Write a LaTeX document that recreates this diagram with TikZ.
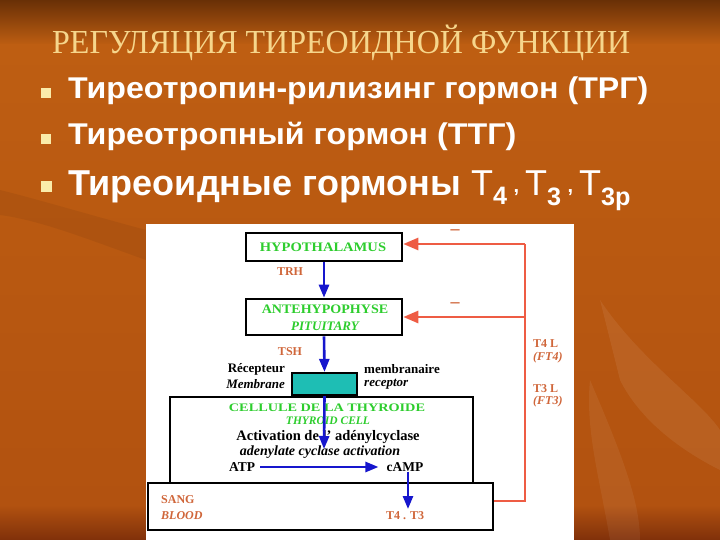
\documentclass[tikz,border=0pt]{standalone}
\usepackage{fontspec}
\usepackage{graphicx}
\setmainfont{Liberation Serif}
\newfontfamily\sansb{Liberation Sans}
\usetikzlibrary{arrows.meta}
\newcommand\fsz[1]{\fontsize{#1}{#1}\selectfont}
\definecolor{bgtop}{RGB}{105,48,6}
\definecolor{bgor}{RGB}{190,94,18}
\definecolor{bgmid}{RGB}{178,82,16}
\definecolor{bgbot}{RGB}{128,48,10}
\definecolor{titlec}{RGB}{246,214,140}
\definecolor{bulc}{RGB}{250,236,170}
\definecolor{lblc}{RGB}{208,102,58}
\definecolor{redc}{RGB}{238,92,68}
\definecolor{grnc}{RGB}{45,205,45}
\definecolor{bluec}{RGB}{22,22,205}
\definecolor{tealc}{RGB}{30,190,180}
\tikzset{
  box/.style={draw=black, line width=2.6pt, fill=white, inner sep=0pt},
  lbl/.style={text=lblc, font=\fsz{12}\bfseries, inner sep=0pt},
  grn/.style={text=grnc, font=\fsz{13}\bfseries, inner sep=0pt},
  blk/.style={text=black, font=\fsz{13.5}\bfseries, inner sep=0pt},
  bluearrow/.style={draw=bluec, line width=2.6pt, -{Triangle[length=13pt,width=10pt]}},
  redline/.style={draw=redc, line width=2.6pt},
  redarrow/.style={draw=redc, line width=2.6pt, -{Triangle[length=15pt,width=12pt]}},
  bullet/.style={fill=bulc, draw=none},
  bultext/.style={text=white, anchor=base west, inner sep=0pt},
}
\begin{document}
\begin{tikzpicture}[x=1pt,y=-1pt]
\useasboundingbox (0,0) rectangle (720,540);
% background
\shade[top color=bgtop, bottom color=bgor] (0,0) rectangle (720,45);
\shade[top color=bgor, bottom color=bgmid] (0,45) rectangle (720,505);
\shade[top color=bgmid, bottom color=bgbot] (0,505) rectangle (720,540);
% faint leaves
\fill[white, opacity=0.07] (600,300) .. controls (640,360) and (700,400) .. (720,430) -- (720,470) .. controls (680,450) and (640,420) .. (620,380) -- cycle;
\fill[white, opacity=0.06] (590,380) .. controls (620,450) and (640,500) .. (640,540) -- (610,540) .. controls (600,480) and (585,430) .. cycle;
\fill[black, opacity=0.06] (0,190) .. controls (40,200) and (90,215) .. (146,230) -- (146,260) .. controls (90,240) and (40,220) .. (0,215) -- cycle;
% title and bullets
\node[anchor=base west, inner sep=0pt, text=titlec, font=\fsz{32}] (title) at (52,54) {\scalebox{1.0}[1.05]{РЕГУЛЯЦИЯ ТИРЕОИДНОЙ ФУНКЦИИ}};
\fill[bullet] (41,88) rectangle (51,98);
\fill[bullet] (41,134) rectangle (51,144);
\fill[bullet] (41,181) rectangle (52,192);
\node[bultext, font=\sansb\bfseries\fsz{30}] (b1) at (68,99) {\scalebox{1.072}[1]{Тиреотропин-рилизинг гормон (ТРГ)}};
\node[bultext, font=\sansb\bfseries\fsz{30}] (b2) at (68,145) {\scalebox{1.075}[1]{Тиреотропный гормон (ТТГ)}};
\node[bultext, font=\sansb\bfseries\fsz{36}] (b3) at (68,196) {Тиреоидные гормоны {\mdseries Т}\textsubscript{4}\,\raisebox{3pt}{\fsz{20},}\,{\mdseries Т}\textsubscript{3}\,\raisebox{3pt}{\fsz{20},}\,{\mdseries Т}\textsubscript{3р}};
% panel
\fill[white] (146,224) rectangle (574,540);
% boxes
\node[box, minimum width=156pt, minimum height=28pt] (hyp) at (324,247) {};
\node[grn] (hyptxt) at (323,247) {\scalebox{1.12}[1]{HYPOTHALAMUS}};
\node[box, minimum width=156pt, minimum height=36pt] (ante) at (324,317) {};
\node[grn] (antetxt) at (325,309) {\scalebox{1.08}[1]{ANTEHYPOPHYSE}};
\node[grn, font=\fsz{13}\bfseries\itshape] (pit) at (325,326) {PITUITARY};
\draw[black, line width=2.6pt, fill=white] (170,397) rectangle (473,492);
\node[box, minimum width=345pt, minimum height=47pt] (blood) at (320.5,506.5) {};
\node[draw=black, line width=2.2pt, fill=tealc, minimum width=65pt, minimum height=22pt, inner sep=0pt] (rec) at (324.5,384) {};
% labels
\node[lbl] (trh) at (290,272) {TRH};
\node[lbl] (tsh) at (290,352) {TSH};
\node[lbl, font=\fsz{18}\bfseries] (m1) at (455,232) {–};
\node[lbl, font=\fsz{18}\bfseries] (m2) at (455,305) {–};
\node[lbl, anchor=west] (t4l) at (533,344) {T4 L};
\node[lbl, anchor=west, font=\fsz{12}\bfseries\itshape] (ft4) at (533,358) {(FT4)};
\node[lbl, anchor=west] (t3l) at (533,389) {T3 L};
\node[lbl, anchor=west, font=\fsz{12}\bfseries\itshape] (ft3) at (533,402) {(FT3)};
\node[blk, font=\fsz{13}\bfseries, anchor=east] (recep) at (285,369) {Récepteur};
\node[blk, font=\fsz{13}\bfseries, anchor=west] (membr) at (364,369) {membranaire};
\node[blk, font=\fsz{13}\bfseries\itshape, anchor=east] (membe) at (285,384) {Membrane};
\node[blk, font=\fsz{13}\bfseries\itshape, anchor=west] (recen) at (364,384) {receptor};
\node[grn, font=\fsz{11.5}\bfseries] (cell) at (327,407.5) {\scalebox{1.24}[1]{CELLULE DE LA THYROIDE}};
\node[grn, font=\fsz{11.5}\bfseries\itshape] (cellen) at (328,421) {THYROID CELL};
\node[blk, font=\fsz{14.5}\bfseries] (activ) at (328,437) {Activation de l' adénylcyclase};
\node[blk, font=\fsz{14}\bfseries\itshape] (activen) at (320,452) {adenylate cyclase activation};
\node[blk] (atp) at (242,467) {ATP};
\node[blk] (camp) at (405,467) {cAMP};
\node[lbl, anchor=west] (sang) at (161,500) {SANG};
\node[lbl, anchor=west, font=\fsz{12}\bfseries\itshape] (bloodt) at (161,516) {BLOOD};
\node[lbl] (t4t3) at (405,516) {T4 . T3};
% blue arrows
\coordinate (actip) at (324,449);
\coordinate (camptip) at (408,509);
\draw[bluearrow] (hyp.south) -- (ante.north);
\draw[bluearrow] (ante.south) -- (rec.north);
\draw[bluearrow] (rec.south) -- (actip);
\draw[bluearrow, shorten <=5pt, shorten >=8pt] (atp.east) -- (camp.west);
\draw[bluearrow] (camp.south -| camptip) -- (camptip);
% red feedback
\coordinate (fbb) at (525,501);
\coordinate (fbtop) at (525,244);
\coordinate (fbmid) at (525,317);
\draw[redline] (blood.east |- fbb) -- (fbb) -- (fbtop);
\draw[redarrow] (fbtop) -- (hyp.east |- fbtop);
\draw[redarrow] (fbmid) -- (ante.east);
\end{tikzpicture}
\end{document}
